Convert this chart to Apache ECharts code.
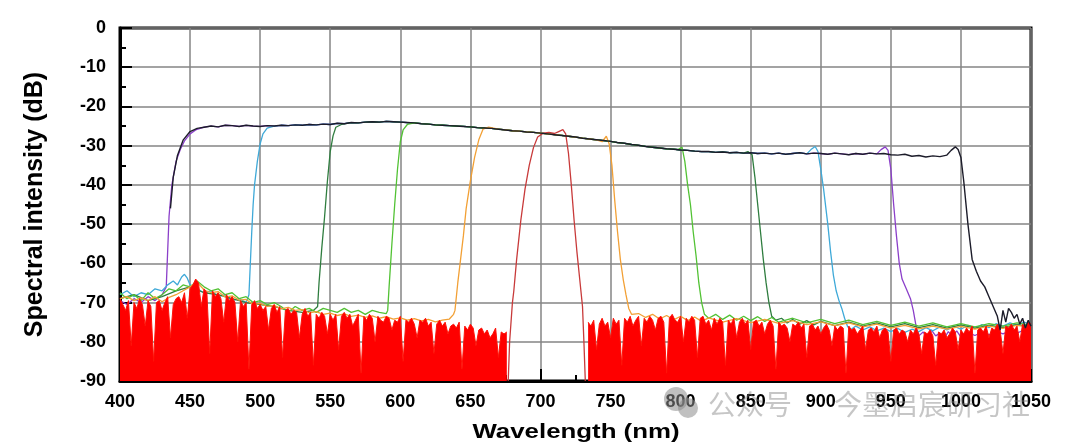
<!DOCTYPE html>
<html>
<head>
<meta charset="utf-8">
<script src="https://cdn.jsdelivr.net/npm/echarts@6/dist/echarts.min.js"></script>
<style>
  html, body { margin: 0; padding: 0; background: #fff; }
  #main { width: 1072px; height: 448px; }
</style>
</head>
<body>
<div id="main"></div>
<script>
// axis ticks
var xTicks = [400, 450, 500, 550, 600, 650, 700, 750, 800, 850, 900, 950, 1000, 1050];
var yTicks = [0, -10, -20, -30, -40, -50, -60, -70, -80, -90];

// red trace noise floor, read every 2 nm (400..676 and 734..1050)
var redNoiseLeftStart = 400;
var redNoiseLeft = [
  -69, -70.5, -72, -69.5, -81, -70, -71.5, -69, -70.5, -76,
  -69.5, -71, -85, -70, -69.5, -72, -70, -68.5, -79, -70.5,
  -69, -68.5, -70, -67.5, -74, -66.5, -65.5, -64, -65, -71,
  -66.5, -67.5, -83, -67, -68.5, -67.5, -69, -75, -68, -69.5,
  -68.5, -70, -80, -69.5, -71, -70, -87, -70.5, -69.5, -71.5,
  -70.5, -72, -71, -77, -71.5, -70.5, -72.5, -71, -84, -72,
  -71.5, -73, -72, -72.5, -79, -73, -71.5, -73.5, -72.5, -86,
  -73, -74, -72.5, -73.5, -78, -73, -74.5, -73, -82, -73.5,
  -72.5, -74, -73, -76, -74.5, -73, -88, -73.5, -74.5, -73,
  -74, -80, -73.5, -74.5, -75, -73.5, -74, -77, -74.5, -75,
  -73.5, -85, -74.5, -75, -74, -75.5, -79, -74.5, -75, -74,
  -76, -75, -83, -75.5, -74.5, -76, -75, -78, -76, -75.5,
  -76.5, -75, -87, -76, -77, -75.5, -76.5, -81, -77, -76.5,
  -78, -77, -79, -78, -76.5, -84, -77.5, -78, -77.5
];
var redNoiseRightStart = 734;
var redNoiseRight = [
  -75, -76, -74.5, -82, -75.5, -74, -76, -75, -79, -74,
  -75.5, -74.5, -86, -74, -75, -73.5, -76, -74.5, -73.5, -81,
  -74, -75, -73.5, -74.5, -77, -74, -73.5, -75, -88, -74,
  -73, -74.5, -75, -73.5, -80, -74, -75, -73.5, -74.5, -84,
  -74, -73.5, -75.5, -74.5, -77, -74, -75.5, -74, -75, -86,
  -74.5, -75.5, -74, -79, -75, -74, -75.5, -74.5, -82, -75,
  -74.5, -76, -75, -78, -75.5, -74.5, -76, -87, -75, -76,
  -75.5, -76.5, -80, -75.5, -76, -75, -76.5, -75.5, -84, -76,
  -75.5, -77, -76, -78, -76.5, -75.5, -77, -81, -76, -77,
  -76, -76.5, -88, -76, -77, -76.5, -78, -77, -76, -82,
  -77, -76.5, -77.5, -76, -79, -77, -76.5, -77.5, -85, -77,
  -76.5, -78, -77, -77.5, -80, -77, -78, -76.5, -78, -83,
  -77.5, -78, -77, -78.5, -86, -77.5, -78, -77, -79, -78,
  -76.5, -77.5, -82, -77, -78, -76.5, -77.5, -76, -88, -77,
  -76.5, -77.5, -76, -79, -76.5, -77, -75.5, -77, -83, -76,
  -76.5, -75.5, -77, -76, -80, -75.5, -76.5, -75, -75.5
];

// red filter passband (680-730 nm)
var redPass = [[677, -90], [678, -80], [680, -70], [681, -67], [683, -59], [686, -49], [689, -41],
  [692, -35], [695, -30.5], [698, -27.8], [702, -26.8], [706, -26.6], [710, -26.9], [713, -26.4],
  [716, -25.9], [718, -27], [720, -32], [722, -40], [724, -49], [726, -57], [728, -64], [730, -71],
  [731, -80], [732, -90]];

// common passband top of the broadband (black) trace, every 5 nm
var topCurve = [
  [450, -26.4], [455, -25.6], [460, -25.3], [465, -25.0], [470, -25.2], [475, -24.8], [480, -24.9],
  [485, -25.1], [490, -24.8], [495, -25.0], [500, -25.1], [505, -24.9], [510, -25.0], [515, -24.8],
  [520, -24.9], [525, -24.7], [530, -24.8], [535, -24.6], [540, -24.7], [545, -24.5], [550, -24.6],
  [555, -24.3], [560, -24.4], [565, -24.1], [570, -24.2], [575, -24.0], [580, -23.9], [585, -24.0],
  [590, -23.8], [595, -23.9], [600, -24.0], [605, -24.1], [610, -24.2], [615, -24.4], [620, -24.5],
  [625, -24.7], [630, -24.8], [635, -24.9], [640, -25.0], [645, -25.1], [650, -25.2], [655, -25.4],
  [660, -25.5], [665, -25.6], [670, -25.8], [675, -26.0], [680, -26.2], [685, -26.3], [690, -26.5],
  [695, -26.6], [700, -26.8], [705, -27.0], [710, -27.2], [715, -27.4], [720, -27.6], [725, -27.8],
  [730, -28.1], [735, -28.3], [740, -28.5], [745, -28.7], [750, -28.9], [755, -29.2], [760, -29.4],
  [765, -29.7], [770, -29.9], [775, -30.2], [780, -30.4], [785, -30.6], [790, -30.8], [795, -30.9],
  [800, -31.1], [805, -31.2], [810, -31.4], [815, -31.5], [820, -31.5], [825, -31.7], [830, -31.6],
  [835, -31.8], [840, -31.7], [845, -31.9], [850, -31.8], [855, -32.0], [860, -31.9], [865, -32.1],
  [870, -31.9], [875, -32.2], [880, -32.0], [885, -31.8], [890, -32.1], [895, -31.9], [900, -32.0],
  [905, -32.2], [910, -31.9], [915, -32.1], [920, -32.3], [925, -32.0], [930, -32.2], [935, -31.9],
  [940, -32.1], [945, -32.0], [950, -32.3], [955, -32.4], [960, -32.2], [965, -32.7], [970, -32.5],
  [975, -32.9], [980, -32.6], [985, -32.8], [990, -32.4]
];

// black (broadband) edges
var blackRise = [[436, -46], [438, -38], [441, -32.5], [445, -28.6]];
var blackFall = [[993, -31.2], [996, -30.3], [998, -31], [1000, -33], [1002, -39], [1005, -50],
  [1008, -59], [1011, -62], [1014, -64.5], [1017, -66], [1020, -68.5], [1023, -71], [1026, -73.5],
  [1028, -77], [1030, -72], [1032, -75], [1034, -71.5], [1036, -72.5], [1038, -74], [1040, -73],
  [1042, -75.5], [1044, -74], [1046, -76.5], [1048, -74.5], [1050, -76]];

// purple filter (435-950 nm)
var purpleLeft = [[400, -69.5], [405, -70.5], [410, -69], [415, -70], [420, -68.5], [425, -69.5], [430, -68], [433, -66]];
var purpleRise = [[434, -57], [435, -48], [437, -40], [440, -34], [443, -31], [446, -28.8], [450, -27], [454, -26]];
var purpleFall = [[943, -31], [946, -30.3], [948, -31.2], [950, -36], [952, -45], [954, -53], [956, -60],
  [958, -64], [961, -66.5], [964, -69], [966, -72], [968, -76], [970, -78.5]];
var purpleRight = [[973, -77.5], [976, -79], [979, -77], [982, -78.5], [985, -77.8], [988, -79.2], [991, -77.4],
  [994, -78.6], [997, -77.2], [1000, -78.8], [1005, -77.6], [1010, -78.4], [1015, -77.5], [1020, -78.2],
  [1025, -77.3], [1030, -78], [1035, -77.2], [1040, -77.8], [1045, -77], [1050, -77.5]];

// blue filter (495-905 nm)
var blueLeft = [[400, -68], [405, -67], [410, -68.5], [415, -67.5], [420, -68], [425, -66.5], [430, -67],
  [434, -65.5], [438, -64.5], [441, -65.5], [444, -63.5], [446, -62.8], [448, -63.8], [450, -65.5],
  [455, -66.5], [460, -67.5], [465, -67], [470, -68.5], [475, -68], [480, -69.5], [485, -69], [490, -70]];
var blueRise = [[492, -68], [493, -60], [494, -52], [495, -45], [496, -40], [498, -34], [500, -29.5], [502, -27], [505, -25.5]];
var blueFall = [[893, -31], [896, -30.2], [898, -31.5], [900, -36], [902, -41], [905, -50], [907, -57],
  [909, -63], [911, -67], [913, -69.5], [915, -71.5], [917, -74], [919, -76], [921, -77]];
var blueRight = [[925, -76], [930, -77], [935, -76.2], [940, -77.2], [945, -76.5], [950, -77.4], [955, -76.6],
  [960, -77.6], [965, -76.8], [970, -77.4], [975, -76.4], [980, -77.2], [985, -76.2], [990, -77], [995, -76],
  [1000, -76.8], [1005, -75.8], [1010, -76.6], [1015, -75.6], [1020, -76.4], [1025, -75.4], [1030, -76],
  [1035, -75.2], [1040, -75.8], [1045, -75], [1050, -75.6]];

// dark green filter (545-860 nm)
var dgreenLeft = [[400, -69], [410, -68], [420, -69.5], [430, -68.5], [440, -67], [450, -66], [460, -67.5],
  [470, -68], [480, -69], [490, -70], [500, -70.5], [510, -71], [520, -72], [530, -72.5], [538, -72]];
var dgreenRise = [[541, -71], [542, -65], [544, -56], [546, -48], [548, -39], [550, -31.5], [552, -27.5], [554, -25.3], [558, -24.6]];
var dgreenFall = [[848, -31.5], [851, -32.3], [853, -38], [855, -45], [857, -52], [859, -59], [861, -65],
  [863, -70], [865, -73.5], [868, -74.5]];
var dgreenRight = [[872, -74], [876, -75.2], [880, -74.3], [885, -75.5], [890, -74.6], [895, -75.7], [900, -74.8],
  [910, -75.9], [920, -75], [930, -76], [940, -75.2], [950, -76.2], [960, -75.4], [970, -76.4], [980, -75.6],
  [990, -76.5], [1000, -75.7], [1010, -76.5], [1020, -75.8], [1030, -76.4], [1040, -75.6], [1050, -76.2]];

// green filter (595-810 nm)
var greenLeft = [[400, -67.5], [405, -69], [410, -68], [415, -69.5], [420, -67.5], [425, -69], [430, -68],
  [435, -66.5], [440, -67], [445, -65.5], [450, -66], [455, -64.5], [460, -66], [465, -67], [470, -66.5],
  [475, -68], [480, -67.5], [485, -69], [490, -68.5], [495, -70], [500, -69.5], [505, -70.5], [510, -70],
  [515, -71], [520, -72.5], [525, -71], [530, -72], [535, -71.5], [540, -72.5], [545, -71.5], [550, -72],
  [555, -72.5], [560, -71.5], [565, -72.5], [570, -72], [575, -73], [580, -72], [585, -72.5], [590, -72.8]];
var greenRise = [[591, -72], [592, -66], [594, -55], [596, -45], [598, -36], [600, -29], [602, -26], [605, -24.6]];
var greenFall = [[798, -31], [801, -30.4], [803, -34], [805, -40], [807, -45], [809, -52], [811, -58],
  [813, -65], [815, -70], [817, -73], [820, -74]];
var greenRight = [[825, -73], [830, -74.3], [835, -73.2], [840, -74.5], [845, -73.5], [850, -74.6], [855, -73.6],
  [860, -74.8], [865, -73.8], [870, -75], [880, -74], [890, -75.2], [900, -74.3], [910, -75.4], [920, -74.5],
  [930, -75.6], [940, -74.8], [950, -75.8], [960, -75], [970, -76], [980, -75.2], [990, -76.2], [1000, -75.4],
  [1010, -76.2], [1020, -75.4], [1030, -76], [1040, -75.2], [1050, -75.8]];

// orange filter (645-760 nm)
var orangeLeft = [[400, -69], [405, -68.5], [410, -69.5], [415, -68.8], [420, -69.5], [425, -68.5], [430, -69.8],
  [435, -68.7], [440, -68], [445, -67], [450, -66], [455, -64.8], [460, -66.8], [465, -67.5], [470, -67.2],
  [475, -68.6], [480, -68.3], [485, -69.4], [490, -69.2], [495, -70.5], [500, -70.2], [505, -71], [510, -70.7],
  [515, -71.6], [520, -71.2], [525, -72], [530, -71.8], [535, -72.6], [540, -72.3], [545, -73], [550, -72.7],
  [555, -73.3], [560, -72.9], [565, -73.5], [570, -73.2], [575, -73.8], [580, -73.4], [585, -74], [590, -73.6],
  [595, -74.2], [600, -73.9], [605, -74.5], [610, -74.1], [615, -74.7], [620, -74.3], [625, -74.9], [630, -74.5],
  [635, -74.2], [638, -73]];
var orangeRise = [[639, -72], [641, -65], [643, -59], [645, -53], [647, -46], [650, -39], [653, -33], [656, -28.5], [659, -25.8], [663, -25.3]];
var orangeFall = [[744, -29], [747, -27.6], [749, -29.5], [751, -35], [753, -44], [755, -52], [757, -59],
  [759, -64], [761, -68], [763, -71.5], [765, -73]];
var orangeRight = [[770, -72.8], [775, -73.8], [780, -73], [785, -74.2], [790, -73.3], [795, -74.4], [800, -73.5],
  [805, -74.6], [810, -73.7], [815, -74.8], [820, -73.9], [830, -75], [840, -74.1], [850, -75.1], [860, -74.3],
  [870, -75.3], [880, -74.6], [890, -75.6], [900, -74.9], [910, -75.9], [920, -75.2], [930, -76.2], [940, -75.5],
  [950, -76.5], [960, -75.8], [970, -76.7], [980, -76], [990, -76.8], [1000, -76.1], [1010, -76.8], [1020, -76],
  [1030, -76.6], [1040, -75.8], [1050, -76.3]];

var font = 'Liberation Sans, Arial, sans-serif';

function withTop(left, rise, fall, right) {
  var a = rise[rise.length - 1][0], b = fall[0][0];
  var mid = topCurve.filter(function (p) { return p[0] > a + 2 && p[0] < b - 2; });
  return left.concat(rise, mid, fall, right);
}

function toPairs(start, vals) {
  return vals.map(function (v, i) { return [start + i * 2, v]; });
}

function trace(name, data, color, width, z) {
  return {
    name: name,
    type: 'line',
    data: data,
    symbol: 'none',
    silent: true,
    z: z,
    lineStyle: { color: color, width: width },
    itemStyle: { color: color }
  };
}

var myChart = echarts.init(document.getElementById('main'));

myChart.setOption({
  animation: false,
  backgroundColor: '#fff',
  grid: {
    left: 120, right: 41, top: 28, bottom: 67,
    show: true, borderColor: '#000', borderWidth: 3,
    outerBoundsMode: 'none'
  },
  xAxis: {
    type: 'value',
    min: 400, max: 1050, interval: 50,
    axisLine: { show: true, onZero: false, lineStyle: { color: '#000', width: 3 } },
    axisTick: { show: true, inside: true, length: 12, lineStyle: { color: '#000', width: 2 } },
    minorTick: { show: true, splitNumber: 2, length: 6, lineStyle: { color: '#000', width: 2 } },
    axisLabel: {
      fontFamily: font, fontWeight: 'bold', fontSize: 18, color: '#000', margin: 12,
      formatter: function (v) { return xTicks.indexOf(v) >= 0 ? String(v) : ''; }
    },
    splitLine: { show: true, lineStyle: { color: '#858585', width: 1.5 } }
  },
  yAxis: {
    type: 'value',
    min: -90, max: 0, interval: 10,
    name: 'Spectral intensity (dB)',
    nameLocation: 'middle',
    nameGap: 72,
    nameTextStyle: { fontFamily: font, fontWeight: 'bold', fontSize: 25, color: '#000' },
    axisLine: { show: true, onZero: false, lineStyle: { color: '#000', width: 3 } },
    axisTick: { show: true, inside: true, length: 12, lineStyle: { color: '#000', width: 2 } },
    minorTick: { show: true, splitNumber: 2, length: 6, lineStyle: { color: '#000', width: 2 } },
    axisLabel: {
      fontFamily: font, fontWeight: 'bold', fontSize: 18, color: '#000', margin: 14,
      formatter: function (v) { return yTicks.indexOf(v) >= 0 ? String(v) : ''; }
    },
    splitLine: { show: true, lineStyle: { color: '#858585', width: 1.5 } }
  },
  graphic: [
    {
      type: 'text', x: 576, y: 432, scaleX: 1.23, silent: true, z: 50,
      style: {
        text: 'Wavelength (nm)', x: 0, y: 0,
        font: 'bold 21px "Liberation Sans", Arial, sans-serif',
        fill: '#000', align: 'center', verticalAlign: 'middle'
      }
    },
    { type: 'circle', shape: { cx: 676, cy: 399, r: 12 }, style: { fill: 'rgba(140,140,140,0.55)' }, z: 100, silent: true },
    { type: 'circle', shape: { cx: 688, cy: 408, r: 10 }, style: { fill: 'rgba(140,140,140,0.55)' }, z: 100, silent: true },
    {
      type: 'text', x: 708, y: 404, silent: true, z: 100,
      style: {
        text: '公众号', x: 0, y: 0,
        font: '28px "Noto Sans CJK SC"',
        fill: 'rgba(120,120,120,0.42)', verticalAlign: 'middle'
      }
    },
    {
      type: 'text', x: 834, y: 404, silent: true, z: 100,
      style: {
        text: '今墨启宸研习社', x: 0, y: 0,
        font: '28px "Noto Sans CJK SC"',
        fill: 'rgba(120,120,120,0.42)', verticalAlign: 'middle'
      }
    }
  ],
  series: [
    trace('purple', withTop(purpleLeft, purpleRise, purpleFall, purpleRight), '#8b3fc9', 1.3, 2),
    trace('blue', withTop(blueLeft, blueRise, blueFall, blueRight), '#3fa9d8', 1.3, 2),
    trace('dark green', withTop(dgreenLeft, dgreenRise, dgreenFall, dgreenRight), '#2f7d3f', 1.3, 2),
    trace('green', withTop(greenLeft, greenRise, greenFall, greenRight), '#52c234', 1.3, 2),
    trace('orange', withTop(orangeLeft, orangeRise, orangeFall, orangeRight), '#f2a035', 1.3, 2),
    {
      name: 'red noise L', type: 'line', symbol: 'none', silent: true, z: 3,
      data: toPairs(redNoiseLeftStart, redNoiseLeft),
      lineStyle: { color: '#fe1208', width: 1 },
      areaStyle: { color: '#fe0000', opacity: 1, origin: 'start' }
    },
    {
      name: 'red noise R', type: 'line', symbol: 'none', silent: true, z: 3,
      data: toPairs(redNoiseRightStart, redNoiseRight),
      lineStyle: { color: '#fe1208', width: 1 },
      areaStyle: { color: '#fe0000', opacity: 1, origin: 'start' }
    },
    trace('red', redPass, '#c83a3a', 1.3, 4),
    trace('black', blackRise.concat(topCurve, blackFall), '#1c1c2a', 1.4, 5)
  ]
});
</script>
</body>
</html>
